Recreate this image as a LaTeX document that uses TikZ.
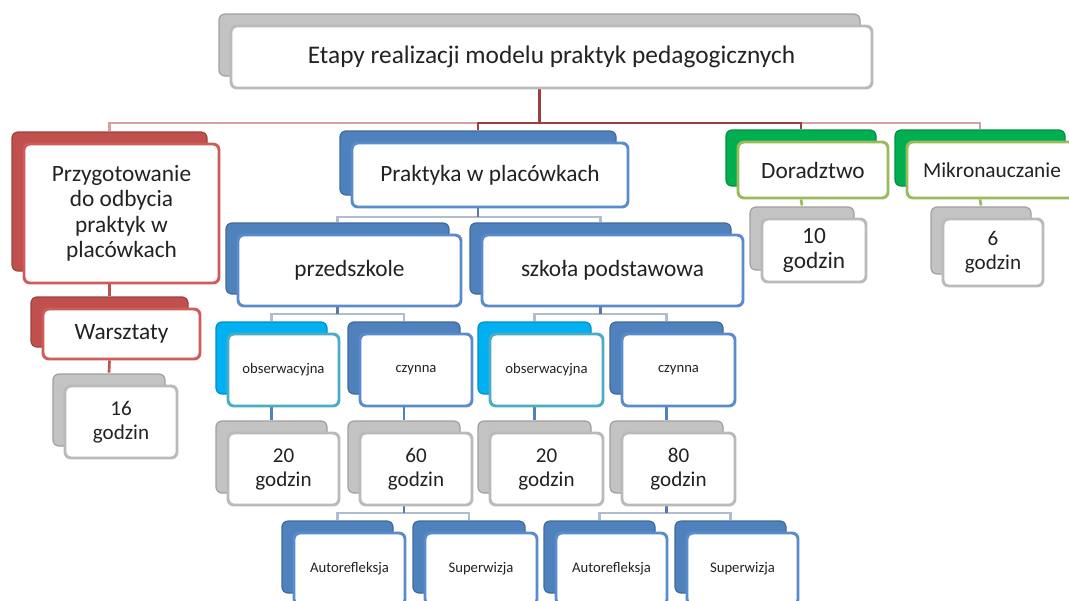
\documentclass[tikz,border=0pt]{standalone}
\usepackage{fontspec}
\setmainfont{Carlito}
\usetikzlibrary{shadows,backgrounds}
\definecolor{txtcol}{HTML}{222222}
\definecolor{grayback}{HTML}{C3C3C3}
\definecolor{grayline}{HTML}{BABABA}
\definecolor{redback}{HTML}{C0504D}
\definecolor{redline}{HTML}{CF5C5B}
\definecolor{blueback}{HTML}{4F81BD}
\definecolor{blueline}{HTML}{5A8BCB}
\definecolor{cyanback}{HTML}{00B0F0}
\definecolor{cyanline}{HTML}{4BACC6}
\definecolor{greenback}{HTML}{00B050}
\definecolor{greenline}{HTML}{9BBB59}
\definecolor{topdark}{HTML}{9B3F42}
\definecolor{toppink}{HTML}{D4A0A1}
\definecolor{bluelight}{HTML}{B0BDCF}
\definecolor{bluedark}{HTML}{5A79A6}
\newcommand\cardnode[7]{%
  \node[#2, minimum width={(#5-#3)*0.75pt}, minimum height={(#6-#4)*0.75pt}] (#1) at ({(#3+#5)/2},{(#4+#6)/2}) {#7};}
\begin{document}
\begin{tikzpicture}[x=0.75pt,y=-0.75pt,
  card/.style 2 args={draw=#2, fill=white, line width=2.2pt, rounded corners=4.5pt, inner sep=1pt, align=center, text=txtcol,
    general shadow={shadow xshift=-9pt, shadow yshift=9pt, fill=#1, draw=#1!82!black, line width=0.9pt}},
  graycard/.style={card={grayback}{grayline}},
  redcard/.style={card={redback}{redline}},
  bluecard/.style={card={blueback}{blueline}},
  cyancard/.style={card={cyanback}{cyanline}},
  greencard/.style={card={greenback}{greenline}},
  ftitle/.style={font=\fontsize{19pt}{21pt}\selectfont},
  fbig/.style={font=\fontsize{17.5pt}{19pt}\selectfont},
  fmikro/.style={font=\fontsize{16pt}{19pt}\selectfont},
  fmid/.style={font=\fontsize{15.8pt}{18pt}\selectfont},
  fsmall/.style={font=\fontsize{11pt}{12pt}\selectfont},
  conn/.style={line width=2pt},
]
\useasboundingbox (0,0) rectangle (1069,600);
\clip (0,0) rectangle (1069,600);

% top level
\cardnode{top}{graycard,ftitle}{231}{26}{872}{88}{Etapy realizacji modelu praktyk pedagogicznych}
\cardnode{prep}{redcard,fbig}{24}{144}{219}{283}{Przygotowanie\\do odbycia\\praktyk w\\placówkach}
\cardnode{prakt}{bluecard,fbig}{352}{143}{628}{207}{Praktyka w placówkach}
\cardnode{dor}{greencard,fbig}{738}{142}{888}{198}{Doradztwo}
\cardnode{mikro}{greencard,fmikro}{907}{142}{1077}{198}{Mikronauczanie}
% second level
\cardnode{w10}{graycard,fbig}{762}{219}{866}{282}{10\\godzin}
\cardnode{w6}{graycard,fmid}{943}{219}{1043}{286}{6\\godzin}
\cardnode{warsz}{redcard,fbig}{43}{309}{200}{359}{Warsztaty}
\cardnode{w16}{graycard,fmid}{65}{386}{177}{458}{16\\godzin}
\cardnode{przed}{bluecard,fbig}{238}{235}{461}{306}{przedszkole}
\cardnode{szk}{bluecard,fbig}{482}{235}{743}{306}{szkoła podstawowa}
% third level
\cardnode{obs1}{cyancard,fsmall}{228}{334}{339}{406}{obserwacyjna}
\cardnode{czy1}{bluecard,fsmall}{360}{334}{472}{406}{czynna}
\cardnode{obs2}{cyancard,fsmall}{490}{334}{603}{406}{obserwacyjna}
\cardnode{czy2}{bluecard,fsmall}{622}{334}{735}{406}{czynna}
\cardnode{w20a}{graycard,fmid}{228}{433}{339}{505}{20\\godzin}
\cardnode{w60}{graycard,fmid}{360}{433}{472}{505}{60\\godzin}
\cardnode{w20b}{graycard,fmid}{490}{433}{603}{505}{20\\godzin}
\cardnode{w80}{graycard,fmid}{622}{433}{735}{505}{80\\godzin}
\cardnode{auto1}{bluecard,fsmall}{294}{533}{405}{605}{Autorefleksja}
\cardnode{sup1}{bluecard,fsmall}{425}{533}{537}{605}{Superwizja}
\cardnode{auto2}{bluecard,fsmall}{556}{533}{667}{605}{Autorefleksja}
\cardnode{sup2}{bluecard,fsmall}{687}{533}{798}{605}{Superwizja}

\coordinate (bus0) at (0,123);
\coordinate (bus1) at (0,217);
\coordinate (bus2) at (0,314);
\coordinate (bus3) at (0,513);

\begin{scope}[on background layer]
  \fill[white] (0,0) rectangle (1069,600);
  % top level
  \foreach \c in {prep,mikro}
    \draw[conn,toppink] ([xshift=-9pt]top.south) -- ([xshift=-9pt]top.south |- bus0) -| ([xshift=-9pt,yshift=9pt]\c.north);
  \foreach \c in {prakt,dor}
    \draw[conn,topdark] ([xshift=-9pt]top.south) -- ([xshift=-9pt]top.south |- bus0) -| ([xshift=-9pt,yshift=9pt]\c.north);
  \draw[conn,topdark] ([xshift=-9pt]top.south) -- ([xshift=-9pt]top.south |- bus0);
  % red column
  \draw[conn,redback] ([xshift=-9pt]prep.south) -- ([xshift=-9pt,yshift=9pt]warsz.north);
  \draw[conn,redback] ([xshift=-9pt]warsz.south) -- ([xshift=-9pt,yshift=9pt]w16.north);
  % green
  \draw[conn,greenline] ([xshift=-9pt]dor.south) -- ([xshift=-9pt,yshift=9pt]w10.north);
  \draw[conn,greenline] ([xshift=-9pt]mikro.south) -- ([xshift=-9pt,yshift=9pt]w6.north);
  % blue tree
  \foreach \p/\a/\b/\bus in {prakt/przed/szk/bus1, przed/obs1/czy1/bus2, szk/obs2/czy2/bus2, w60/auto1/sup1/bus3, w80/auto2/sup2/bus3}{
    \draw[conn,bluelight] ([xshift=-9pt]\p.south |- \bus) -| ([xshift=-9pt,yshift=9pt]\a.north);
    \draw[conn,bluelight] ([xshift=-9pt]\p.south |- \bus) -| ([xshift=-9pt,yshift=9pt]\b.north);
    \draw[conn,bluedark] ([xshift=-9pt]\p.south) -- ([xshift=-9pt]\p.south |- \bus);
  }
  \foreach \p/\c in {obs1/w20a, czy1/w60, obs2/w20b, czy2/w80}
    \draw[conn,blueback] ([xshift=-9pt]\p.south) -- ([xshift=-9pt,yshift=9pt]\c.north);
\end{scope}
\end{tikzpicture}
\end{document}
